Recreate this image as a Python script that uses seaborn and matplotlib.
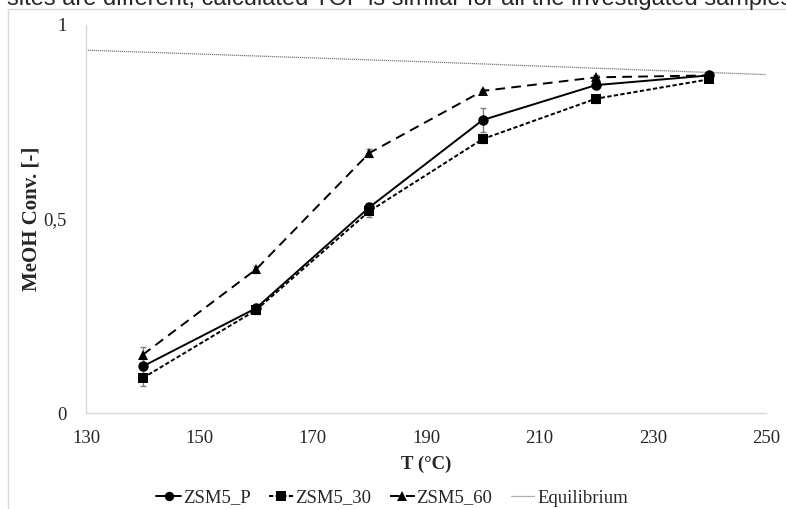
import pandas as pd
import matplotlib
matplotlib.use('Agg')
import matplotlib.pyplot as plt
import seaborn as sns
from matplotlib.patches import Rectangle

# Temperature points
temps = [140, 160, 180, 200, 220, 240]

# Methanol conversion for each catalyst
conv_p = [0.12, 0.27, 0.53, 0.755, 0.845, 0.87]
conv_30 = [0.09, 0.265, 0.52, 0.706, 0.81, 0.86]
conv_60 = [0.15, 0.37, 0.67, 0.83, 0.865, 0.87]

# Error bars
err_p = [0.02, 0.01, 0.01, 0.03, 0.01, 0.005]
err_30 = [0.02, 0.01, 0.015, 0.01, 0.01, 0.005]
err_60 = [0.02, 0.01, 0.01, 0.005, 0.005, 0.005]

# Equilibrium line
eq_t = [130, 190, 250]
eq_conv = [0.935, 0.905, 0.872]

series_names = ['ZSM5_P', 'ZSM5_30', 'ZSM5_60']
all_conv = [conv_p, conv_30, conv_60]
all_err = [err_p, err_30, err_60]

rows = []
for name, vals in zip(series_names, all_conv):
    for t, v in zip(temps, vals):
        rows.append({'T': t, 'conv': v, 'series': name})
df = pd.DataFrame(rows)
df_eq = pd.DataFrame({'T': eq_t, 'conv': eq_conv})

sns.set_style('white')
plt.rcParams['font.family'] = ['Liberation Serif', 'DejaVu Serif']

fig = plt.figure(figsize=(7.86, 5.09), dpi=100)
ax = fig.add_axes([0.1094, 0.1886, 0.8652, 0.7624])

# error bars first (grey, behind markers)
for vals, errs in zip(all_conv, all_err):
    ax.errorbar(temps, vals, yerr=errs, fmt='none', ecolor='#7f7f7f',
                elinewidth=1, capsize=2, capthick=1, zorder=1)

sns.lineplot(data=df_eq, x='T', y='conv', color='#7f7f7f', lw=0.9,
             linestyle=(0, (1, 0.6)), ax=ax, label='Equilibrium', zorder=2)

sns.lineplot(data=df, x='T', y='conv', hue='series', style='series',
             palette=['black'] * 3,
             markers={'ZSM5_P': 'o', 'ZSM5_30': 's', 'ZSM5_60': '^'},
             dashes={'ZSM5_P': '', 'ZSM5_30': (2.2, 1.2), 'ZSM5_60': (5, 3.2)},
             markersize=7.5, markeredgewidth=0, lw=1.4, ax=ax, zorder=3)

ax.set_xlim(130, 250)
ax.set_ylim(0, 1)
ax.set_xticks([130, 150, 170, 190, 210, 230, 250])
ax.set_yticks([0, 0.5, 1])
ax.set_yticklabels(['0', '0,5', '1'])
ax.tick_params(axis='x', length=4, color='#d9d9d9', labelsize=13.5, pad=8)
ax.tick_params(axis='y', length=0, labelsize=13.5, pad=14)
for s in ['top', 'right']:
    ax.spines[s].set_visible(False)
for s in ['left', 'bottom']:
    ax.spines[s].set_color('#d9d9d9')
    ax.spines[s].set_linewidth(1)
ax.set_xlabel('T (°C)', fontsize=13.5, fontweight='bold', labelpad=6.5)
ax.set_ylabel('MeOH Conv. [-]', fontsize=15, fontweight='bold', labelpad=1.5)

handles, labels = ax.get_legend_handles_labels()
order = [labels.index(n) for n in series_names + ['Equilibrium']]
ax.legend([handles[i] for i in order], [labels[i] for i in order],
          loc='center', bbox_to_anchor=(0.499, 1 - 498 / 509), bbox_transform=fig.transFigure,
          ncol=4, frameon=False, fontsize=13.5, handlelength=1.3, handletextpad=0.1,
          columnspacing=1.0, markerscale=0.9, borderpad=0)

# frame of the figure box and the cut-off caption above it
fig.patches.append(Rectangle((8 / 786, -0.1), 1.2, 1 - 9 / 509 + 0.1,
                             transform=fig.transFigure, fill=False,
                             edgecolor='#d9d9d9', lw=1))
fig.text(7 / 786, 1 - 5 / 509,
         'sites are different, calculated TOF is similar for all the investigated samples',
         fontsize=17, family=['Liberation Sans', 'DejaVu Sans'], va='baseline')

fig.savefig('out.png', dpi=100)
